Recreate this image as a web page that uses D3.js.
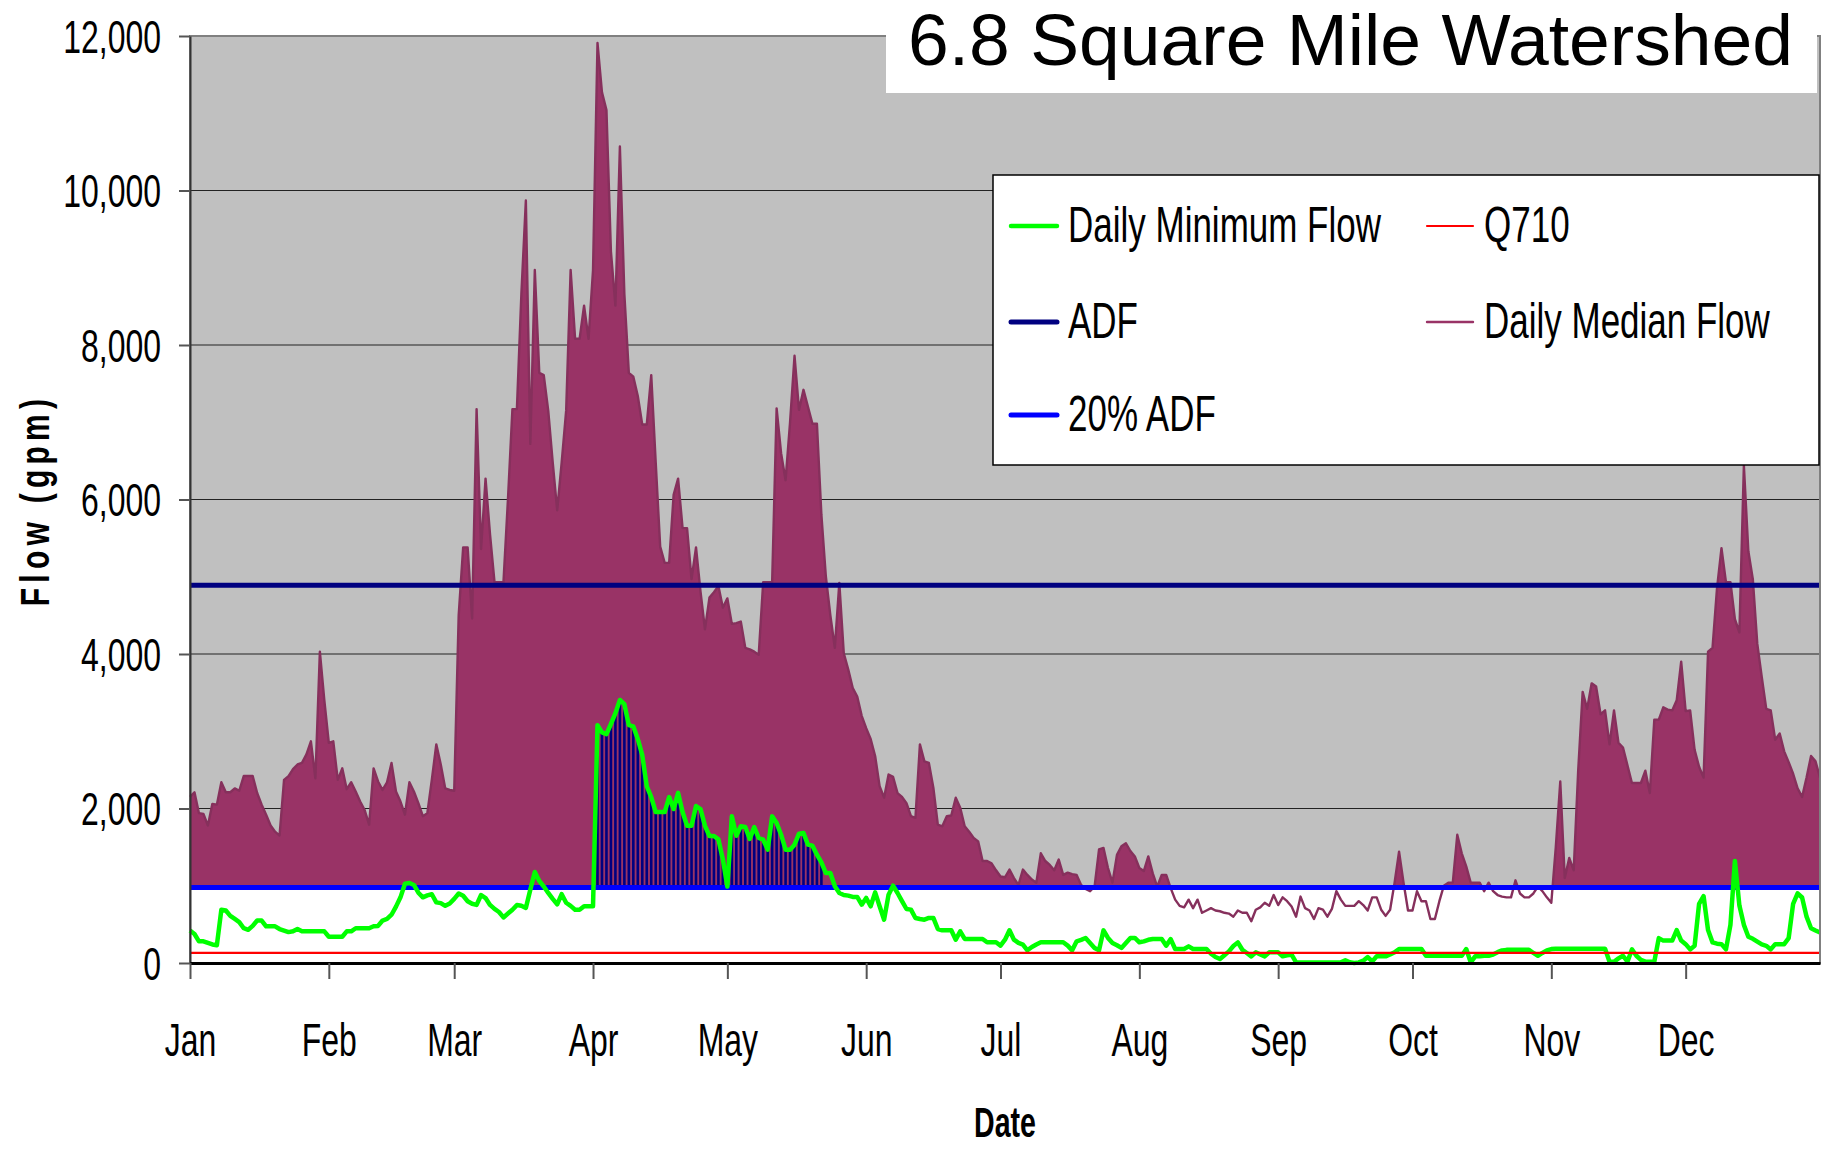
<!DOCTYPE html>
<html>
<head>
<meta charset="utf-8">
<title>6.8 Square Mile Watershed</title>
<script src="https://cdn.jsdelivr.net/npm/d3@7/dist/d3.min.js"></script>
<style>
  body { margin: 0; background: #ffffff; }
  text { font-family: "Liberation Sans", Arial, sans-serif; fill: #000; }
</style>
</head>
<body>
<script>
// month labels and the day of year each month starts on
var months = ["Jan","Feb","Mar","Apr","May","Jun","Jul","Aug","Sep","Oct","Nov","Dec"];
var monthStarts = [0, 31, 59, 90, 120, 151, 181, 212, 243, 273, 304, 334];

// flow axis ticks (gpm)
var yTicks = [0, 2000, 4000, 6000, 8000, 10000, 12000];

// reference flows (gpm)
var adf = 4890;
var adf20 = 978;
var q710 = 130;

// days where the available flow above 20% ADF is hatched
var stripeDays = [91, 141];

// legend series names
var legendLabels = ["Daily Minimum Flow", "Q710", "ADF", "Daily Median Flow", "20% ADF"];

// daily median flow, Jan 1 .. Dec 31 (gpm)
var medianFlow = [
  2150, 2210, 1940, 1930, 1780, 2060, 2050, 2340, 2210, 2210,
  2260, 2230, 2420, 2420, 2420, 2200, 2050, 1920, 1780, 1700,
  1650, 2370, 2420, 2510, 2570, 2590, 2700, 2870, 2390, 4030,
  3400, 2850, 2870, 2370, 2520, 2250, 2340, 2220, 2090, 1980,
  1790, 2520, 2350, 2240, 2340, 2590, 2220, 2090, 1920, 2340,
  2220, 2070, 1900, 1940, 2370, 2830, 2570, 2260, 2240, 2230,
  4500, 5380, 5380, 4460, 7170, 5360, 6270, 5550, 4930, 4930,
  4930, 6000, 7170, 7170, 8660, 9870, 6720, 8970, 7640, 7610,
  7150, 6480, 5860, 6480, 7150, 8970, 8080, 8080, 8510, 8080,
  8970, 11910, 11270, 11040, 9210, 8510, 10570, 8660, 7640, 7590,
  7340, 6970, 6970, 7610, 6480, 5390, 5180, 5180, 6060, 6270,
  5630, 5630, 4970, 5380, 4810, 4320, 4730, 4800, 4880, 4600,
  4720, 4390, 4400, 4420, 4080, 4060, 4030, 3990, 4930, 4930,
  4930, 7180, 6600, 6250, 7000, 7860, 7160, 7420, 7200, 6980,
  6980, 5800, 5000, 4500, 4080, 4920, 4010, 3800, 3560, 3450,
  3200, 3040, 2900, 2680, 2290, 2140, 2440, 2410, 2200, 2150,
  2070, 1900, 1880, 2830, 2610, 2590, 2270, 1790, 1770, 1900,
  1910, 2140, 2010, 1770, 1700, 1620, 1575, 1320, 1320, 1290,
  1200, 1120, 1110, 1210, 1100, 1010, 1210, 1140, 1080, 1040,
  1420, 1320, 1270, 1200, 1340, 1140, 1170, 1150, 1140, 1010,
  960, 930, 990, 1470, 1490, 1230, 1040, 1400, 1510, 1550,
  1450, 1380, 1230, 1190, 1380, 1160, 990, 1140, 1140, 970,
  820, 740, 720, 820, 710, 820, 650, 680, 710, 680,
  670, 650, 640, 600, 680, 650, 650, 540, 690, 720,
  780, 740, 880, 750, 850, 800, 730, 600, 860, 710,
  680, 570, 710, 690, 600, 700, 930, 820, 740, 740,
  740, 800, 750, 680, 850, 850, 690, 610, 690, 1040,
  1440, 1040, 680, 680, 930, 800, 800, 570, 570, 800,
  1000, 1040, 1040, 1660, 1420, 1250, 1040, 1040, 1040, 930,
  1040, 930, 880, 860, 850, 850, 1070, 900, 850, 850,
  900, 990, 930, 850, 780, 1500, 2350, 1100, 1360, 1200,
  2490, 3510, 3290, 3620, 3580, 3220, 3270, 2830, 3270, 2850,
  2790, 2560, 2330, 2330, 2330, 2490, 2200, 3150, 3150, 3310,
  3280, 3270, 3400, 3900, 3260, 3270, 2760, 2540, 2400, 4030,
  4080, 4850, 5370, 4930, 4930, 4450, 4280, 6440, 5330, 4970,
  4130, 3700, 3290, 3270, 2890, 2970, 2740, 2600, 2450, 2260,
  2150, 2400, 2680, 2610, 2400
];

// daily minimum flow, Jan 1 .. Dec 31 (gpm)
var minFlow = [
  420, 375, 280, 280, 260, 240, 230, 690, 680, 610,
  570, 530, 450, 430, 480, 550, 550, 475, 475, 475,
  440, 420, 400, 410, 440, 410, 410, 410, 410, 410,
  410, 340, 340, 340, 340, 410, 410, 450, 450, 450,
  450, 475, 480, 550, 570, 625, 730, 850, 1025, 1035,
  1010, 910, 850, 875, 890, 785, 775, 740, 770, 830,
  900, 870, 800, 767, 752, 880, 840, 752, 700, 660,
  590, 640, 690, 750, 740, 713, 950, 1178, 1062, 990,
  907, 830, 760, 891, 780, 740, 690, 690, 736, 736,
  736, 3079, 2986, 2962, 3094, 3234, 3405, 3350, 3079, 3063,
  2900, 2690, 2288, 2148, 1954, 1954, 1954, 2148, 1993, 2202,
  1954, 1776, 1776, 2032, 1993, 1776, 1644, 1644, 1600, 1340,
  990, 1900, 1648, 1769, 1760, 1605, 1760, 1618, 1596, 1467,
  1898, 1812, 1661, 1467, 1467, 1532, 1674, 1683, 1532, 1519,
  1402, 1303, 1165, 1165, 993, 906, 880, 872, 855, 855,
  755, 842, 734, 915, 734, 561, 885, 1001, 906, 800,
  699, 691, 583, 570, 561, 583, 583, 440, 423, 423,
  423, 302, 410, 311, 311, 311, 311, 311, 268, 268,
  268, 225, 302, 423, 302, 260, 238, 164, 208, 240,
  268, 268, 268, 268, 268, 268, 225, 164, 281, 300,
  324, 259, 195, 164, 423, 324, 259, 230, 195, 260,
  324, 324, 268, 280, 300, 310, 310, 310, 224, 310,
  181, 181, 181, 215, 181, 181, 181, 181, 120, 77,
  51, 100, 150, 220, 267, 172, 130, 86, 138, 110,
  86, 138, 138, 138, 86, 100, 107, 8, 8, 8,
  8, 8, 8, 8, 8, 8, 8, 8, 34, 10,
  0, 8, 30, 77, 21, 86, 86, 86, 110, 138,
  181, 181, 181, 181, 181, 181, 94, 94, 94, 94,
  94, 94, 94, 94, 94, 181, 8, 86, 86, 94,
  94, 110, 140, 163, 170, 172, 172, 172, 172, 172,
  130, 94, 130, 163, 180, 185, 185, 185, 185, 185,
  185, 185, 185, 185, 185, 185, 185, 17, 17, 60,
  94, 17, 176, 94, 40, 17, 17, 17, 322, 290,
  290, 290, 426, 290, 244, 176, 222, 766, 866, 426,
  267, 250, 244, 176, 494, 1320, 743, 494, 340, 313,
  276, 240, 222, 176, 244, 244, 244, 322, 766, 902,
  848, 600, 449, 420, 394
];

window.onload = function() {
    var width = 1829, height = 1152;
    var plot = {left: 190, right: 1820, top: 36, bottom: 963};

    var svg = d3.select("body")
        .append("svg")
        .attr("width", width)
        .attr("height", height);

    // day of year -> x, flow -> y
    var x = d3.scaleLinear()
        .domain([0, medianFlow.length - 1])
        .range([plot.left, plot.right]);

    var y = d3.scaleLinear()
        .domain([0, 12000])
        .range([plot.bottom, plot.top]);

    // condensed text helper (the chart font is a narrow one)
    function addText(parent, str, tx, ty, size, sx, anchor, weight) {
        return parent.append("text")
            .attr("transform", "translate(" + tx + "," + ty + ") scale(" + sx + ",1)")
            .attr("text-anchor", anchor)
            .style("font-size", size + "px")
            .style("font-weight", weight || "normal")
            .text(str);
    }

    // grey plot area
    svg.append("rect")
        .attr("x", plot.left)
        .attr("y", plot.top)
        .attr("width", plot.right - plot.left)
        .attr("height", plot.bottom - plot.top)
        .style("fill", "#c0c0c0")
        .style("stroke", "#808080")
        .style("stroke-width", 2);

    // horizontal gridlines
    svg.selectAll(".grid")
        .data(yTicks.filter(function(d) { return d > 0 && d < 12000; }))
        .enter()
        .append("line")
        .attr("class", "grid")
        .attr("x1", plot.left)
        .attr("x2", plot.right)
        .attr("y1", function(d) { return y(d); })
        .attr("y2", function(d) { return y(d); })
        .style("stroke", "#222")
        .style("stroke-width", 1.2);

    // daily median flow as filled area
    var area = d3.area()
        .x(function(d, i) { return x(i); })
        .y0(y(0))
        .y1(function(d) { return y(d); });

    svg.append("path")
        .datum(medianFlow)
        .attr("d", area)
        .style("fill", "#993366")
        .style("stroke", "none");

    // white band under 20% ADF
    svg.append("rect")
        .attr("x", plot.left)
        .attr("y", y(adf20))
        .attr("width", plot.right - plot.left)
        .attr("height", y(0) - y(adf20))
        .style("fill", "#ffffff");

    // hatched flow above 20% ADF during the spring window
    var stripes = minFlow
        .map(function(v, i) { return {day: i, value: v}; })
        .filter(function(d) {
            return d.day >= stripeDays[0] && d.day <= stripeDays[1] && d.value > adf20;
        });

    svg.selectAll(".stripe")
        .data(stripes)
        .enter()
        .append("rect")
        .attr("class", "stripe")
        .attr("x", function(d) { return x(d.day) - 1.3; })
        .attr("width", 2.6)
        .attr("y", function(d) { return y(d.value); })
        .attr("height", function(d) { return y(adf20) - y(d.value); })
        .style("fill", "#000080");

    // median line on top (shows where flow drops below 20% ADF)
    var line = d3.line()
        .x(function(d, i) { return x(i); })
        .y(function(d) { return y(d); });

    svg.append("path")
        .datum(medianFlow)
        .attr("d", line)
        .style("fill", "none")
        .style("stroke", "#86305c")
        .style("stroke-width", 2.4)
        .style("stroke-linejoin", "round");

    // ADF and 20% ADF reference lines
    function refLine(value, color, w) {
        svg.append("line")
            .attr("x1", x(0))
            .attr("x2", x(medianFlow.length - 1))
            .attr("y1", y(value))
            .attr("y2", y(value))
            .style("stroke", color)
            .style("stroke-width", w);
    }
    refLine(adf, "#000080", 5);
    refLine(adf20, "#0000ff", 5);

    // daily minimum flow
    svg.append("path")
        .datum(minFlow)
        .attr("d", line)
        .style("fill", "none")
        .style("stroke", "#00ff00")
        .style("stroke-width", 4.5)
        .style("stroke-linejoin", "round");

    refLine(q710, "#ff0000", 2.2);

    // right plot border
    svg.append("line")
        .attr("x1", plot.right).attr("x2", plot.right)
        .attr("y1", plot.top).attr("y2", plot.bottom)
        .style("stroke", "#808080")
        .style("stroke-width", 2);

    // y axis
    var yAxis = svg.append("g")
        .attr("transform", "translate(" + plot.left + ",0)")
        .call(d3.axisLeft(y)
            .tickValues(yTicks)
            .tickSize(11)
            .tickSizeOuter(0)
            .tickFormat(d3.format(",")));
    yAxis.select(".domain").style("stroke", "#333").style("stroke-width", 2);
    yAxis.selectAll(".tick line").style("stroke", "#555").style("stroke-width", 2);
    yAxis.selectAll(".tick text")
        .attr("x", null)
        .attr("dy", null)
        .attr("transform", "translate(-29,16) scale(0.68,1)")
        .attr("text-anchor", "end")
        .style("font-size", "47px")
        .style("font-family", "'Liberation Sans', Arial, sans-serif");

    // x axis with month ticks
    var xAxis = svg.append("g")
        .attr("transform", "translate(0," + plot.bottom + ")")
        .call(d3.axisBottom(x)
            .tickValues(monthStarts)
            .tickSize(16)
            .tickSizeOuter(0)
            .tickFormat(function(d, i) { return months[i]; }));
    xAxis.select(".domain").style("stroke", "#000").style("stroke-width", 3);
    xAxis.selectAll(".tick line").style("stroke", "#555").style("stroke-width", 2);
    xAxis.selectAll(".tick text")
        .attr("y", null)
        .attr("dy", null)
        .attr("transform", "translate(0,93) scale(0.68,1)")
        .attr("text-anchor", "middle")
        .style("font-size", "47px")
        .style("font-family", "'Liberation Sans', Arial, sans-serif");

    // axis titles
    addText(svg, "Date", 1005, 1137, 42, 0.68, "middle", "bold");

    svg.append("text")
        .attr("transform", "translate(49,500) rotate(-90) scale(0.75,1)")
        .attr("text-anchor", "middle")
        .style("font-size", "40px")
        .style("font-weight", "bold")
        .style("letter-spacing", "7px")
        .text("Flow (gpm)");

    // title box
    svg.append("rect")
        .attr("x", 886)
        .attr("y", 0)
        .attr("width", 931)
        .attr("height", 93)
        .style("fill", "#ffffff");

    svg.append("text")
        .attr("x", 908)
        .attr("y", 65)
        .attr("textLength", 885)
        .attr("lengthAdjust", "spacingAndGlyphs")
        .style("font-size", "72px")
        .text("6.8 Square Mile Watershed");

    // legend
    var legend = svg.append("g");
    legend.append("rect")
        .attr("x", 993)
        .attr("y", 175)
        .attr("width", 826)
        .attr("height", 290)
        .style("fill", "#ffffff")
        .style("stroke", "#000")
        .style("stroke-width", 1.5);

    var legendStyle = {
        "Daily Minimum Flow": {color: "#00ff00", w: 4.5, col: 0, row: 0},
        "Q710": {color: "#ff0000", w: 2.2, col: 1, row: 0},
        "ADF": {color: "#000080", w: 5, col: 0, row: 1},
        "Daily Median Flow": {color: "#993366", w: 2.4, col: 1, row: 1},
        "20% ADF": {color: "#0000ff", w: 5, col: 0, row: 2}
    };
    var colX = [1011, 1427];
    var rowY = [226, 322, 415];

    legendLabels.forEach(function(name) {
        var s = legendStyle[name];
        var lx = colX[s.col], ly = rowY[s.row];
        legend.append("line")
            .attr("x1", lx)
            .attr("x2", lx + 46)
            .attr("y1", ly)
            .attr("y2", ly)
            .style("stroke", s.color)
            .style("stroke-width", s.w)
            .style("stroke-linecap", "round");
        addText(legend, name, lx + 57, ly + 16, 50, 0.7, "start");
    });
};
</script>
</body>
</html>
